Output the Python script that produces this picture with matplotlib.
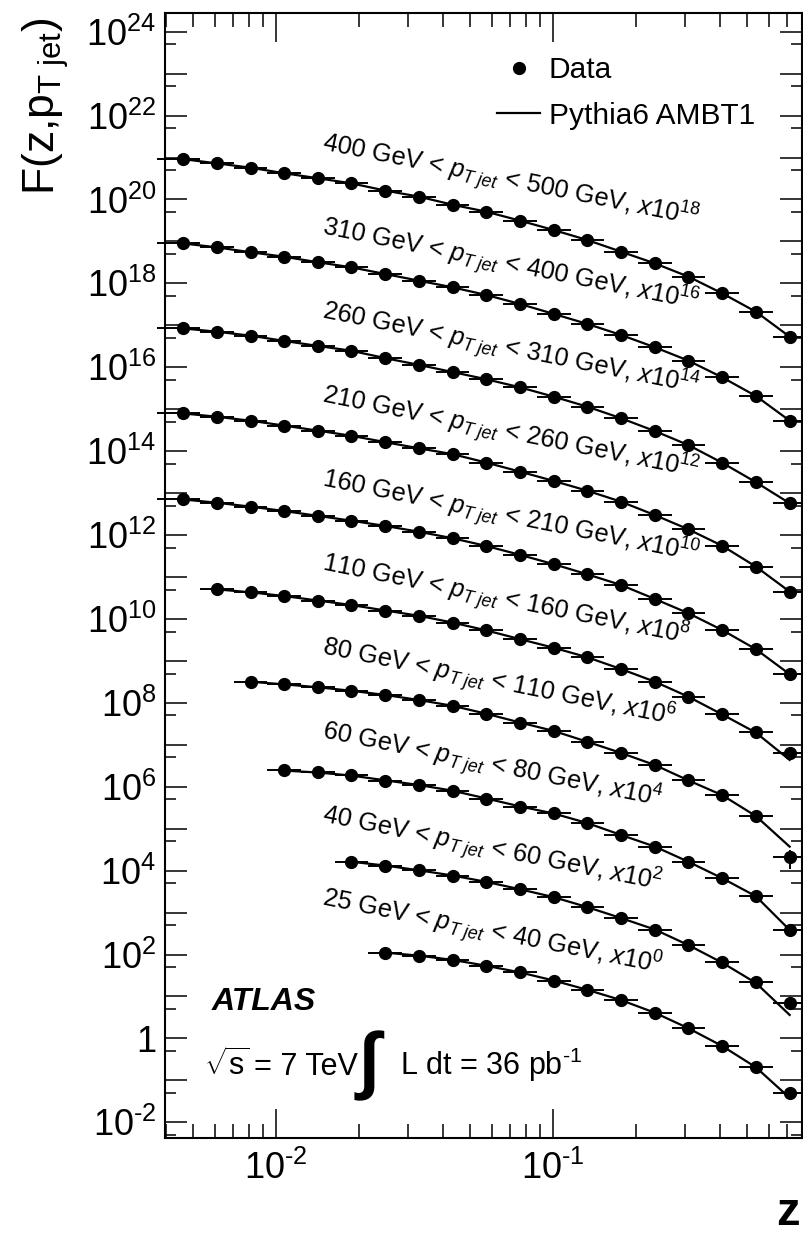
import matplotlib
matplotlib.use("Agg")
import matplotlib.pyplot as plt
import numpy as np
from matplotlib.lines import Line2D
from matplotlib.ticker import FixedLocator, FuncFormatter, NullFormatter

plt.rcParams['font.family'] = ['Liberation Sans', 'DejaVu Sans']
plt.rcParams['mathtext.fontset'] = 'custom'
plt.rcParams['mathtext.rm'] = 'Liberation Sans'
plt.rcParams['mathtext.it'] = 'Liberation Sans:italic'
plt.rcParams['mathtext.bf'] = 'Liberation Sans:bold'

HY = "\u2010"  # short hyphen used as minus sign, as in the original

# z bins (centres and edges)
z_centers = [0.0046, 0.0061, 0.0081, 0.0107, 0.0142, 0.0187, 0.0248, 0.0328, 0.0434, 0.0574,
             0.076, 0.1006, 0.133, 0.176, 0.233, 0.308, 0.408, 0.540, 0.715]
z_edges = [0.00372, 0.00531, 0.00703, 0.0093, 0.0123, 0.0163, 0.02155, 0.0285, 0.0377, 0.0499,
           0.0661, 0.0874, 0.1157, 0.1531, 0.2026, 0.2681, 0.3548, 0.4695, 0.6213, 0.8222]

# jet pT ranges, scale factors and first populated z bin
pt_lo = [25, 40, 60, 80, 110, 160, 210, 260, 310, 400]
pt_hi = [40, 60, 80, 110, 160, 210, 260, 310, 400, 500]
scale_exp = [0, 2, 4, 6, 8, 10, 12, 14, 16, 18]
first_bin = [6, 5, 3, 2, 1, 0, 0, 0, 0, 0]

# measured F(z, pT jet), unscaled
data_25 = [111, 94.2, 74.3, 53.5, 37.4, 23.9, 14.3, 8.15, 4.06, 1.75, 0.662, 0.213, 0.0511]
data_40 = [164, 132, 102, 76.0, 53.7, 36.0, 23.2, 13.4, 7.33, 3.94, 1.69, 0.649, 0.222, 0.0701]
data_60 = [245, 219, 186, 140, 110, 80.7, 51.8, 33.6, 23.3, 13.5, 7.10, 3.73, 1.64, 0.659, 0.249, 0.0385]
data_80 = [320, 277, 235, 195, 154, 117, 84.3, 54.3, 33.7, 21.4, 11.7, 6.40, 3.31, 1.41, 0.637, 0.205, 0.0209]
data_110 = [511, 433, 353, 273, 216, 158, 120, 81.7, 53.2, 32.8, 20.7, 12.2, 6.43, 3.20, 1.41, 0.535, 0.199, 0.0628]
data_160 = [713, 592, 475, 375, 285, 220, 165, 120, 83.9, 55.0, 33.6, 20.1, 11.6, 6.46, 3.00, 1.37, 0.547, 0.193, 0.0481]
data_210 = [800, 664, 533, 406, 308, 234, 163, 117, 85.7, 53.2, 32.4, 19.5, 11.4, 6.25, 3.01, 1.37, 0.558, 0.177, 0.0448]
data_260 = [851, 706, 567, 424, 322, 249, 164, 114, 76.0, 51.8, 33.3, 19.9, 11.5, 6.08, 3.03, 1.41, 0.532, 0.182, 0.0573]
data_310 = [904, 726, 551, 433, 318, 242, 167, 116, 80.7, 52.9, 32.3, 18.6, 10.8, 5.89, 3.00, 1.44, 0.578, 0.207, 0.0533]
data_400 = [925, 729, 573, 422, 320, 243, 162, 117, 74.0, 51.2, 31.3, 18.7, 10.8, 5.70, 3.01, 1.45, 0.581, 0.211, 0.0536]

# vertical error on the 80-110 GeV points (only the last one is visible)
err_80 = [0, 0, 0, 0, 0, 0, 0, 0, 0, 0, 0, 0, 0, 0, 0, 0, 0.010]

# Pythia6 AMBT1 prediction, unscaled
model_25 = [111, 94, 74.5, 54, 37.5, 24.0, 14.4, 8.2, 4.1, 1.75, 0.66, 0.205, 0.0382]
model_40 = [163, 132, 102, 76.5, 54.0, 36.0, 23.3, 13.5, 7.4, 3.95, 1.68, 0.64, 0.21, 0.0363]
model_60 = [243, 218, 185, 142, 110, 80.5, 52.5, 34.0, 23.0, 13.6, 7.1, 3.75, 1.63, 0.66, 0.245, 0.0385]
model_80 = [318, 276, 235, 194, 154, 117, 85.0, 55.0, 34.0, 21.4, 11.8, 6.4, 3.3, 1.42, 0.63, 0.20, 0.0373]
model_110 = [508, 432, 352, 274, 215, 159, 119, 82.0, 53.5, 33.0, 20.6, 12.2, 6.4, 3.2, 1.40, 0.53, 0.195, 0.0436]
model_160 = [710, 590, 476, 374, 286, 220, 165, 120, 84.0, 55.0, 33.8, 20.2, 11.6, 6.45, 3.0, 1.37, 0.545, 0.19, 0.0481]
model_210 = [798, 662, 532, 407, 308, 233, 164, 117, 85.0, 53.5, 32.5, 19.5, 11.4, 6.25, 3.0, 1.37, 0.556, 0.177, 0.0448]
model_260 = [848, 705, 566, 425, 322, 248, 165, 114, 77.0, 51.8, 33.3, 19.9, 11.5, 6.1, 3.02, 1.40, 0.53, 0.182, 0.0573]
model_310 = [900, 725, 552, 432, 318, 242, 167, 116, 80.5, 53.0, 32.3, 18.7, 10.8, 5.9, 3.0, 1.44, 0.576, 0.207, 0.0533]
model_400 = [920, 728, 572, 423, 320, 243, 163, 117, 75.0, 51.2, 31.3, 18.7, 10.8, 5.7, 3.0, 1.45, 0.58, 0.211, 0.0536]

data_sets = [data_25, data_40, data_60, data_80, data_110, data_160, data_210, data_260, data_310, data_400]
model_sets = [model_25, model_40, model_60, model_80, model_110, model_160, model_210, model_260, model_310, model_400]

W, H = 804, 1235
fig = plt.figure(figsize=(W / 100, H / 100), dpi=100)
ax = fig.add_axes([164.7 / W, (H - 1138) / H, (802 - 164.7) / W, (1138 - 12.7) / H])
ax.set_xscale('log')
ax.set_yscale('log')
ax.set_xlim(10 ** -2.4018, 10 ** -0.1011)
ax.set_ylim(10 ** -2.374, 10 ** 24.453)

zc_all = np.array(z_centers)
ze_all = np.array(z_edges)
for k in range(len(data_sets)):
    first = first_bin[k]
    factor = 10.0 ** scale_exp[k]
    zc = zc_all[first:]
    lo = zc - ze_all[first:-1]
    hi = ze_all[first + 1:] - zc
    y = np.array(data_sets[k]) * factor
    ym = np.array(model_sets[k]) * factor
    ax.plot(zc, ym, color='black', lw=1.6, zorder=2)
    yerr = np.array(err_80) * factor if pt_lo[k] == 80 else None
    cont = ax.errorbar(zc, y, xerr=[lo, hi], yerr=yerr, fmt='o', color='black', ms=8.5,
                       elinewidth=1.4, capsize=0, zorder=3)
    for coll in cont.lines[2]:
        coll.set_clip_on(False)
    label = (f"{pt_lo[k]} GeV < $p_{{T\\ jet}}$ < {pt_hi[k]} GeV, "
             f"$\\mathit{{x10^{{{scale_exp[k]}}}}}$")
    ax.text(0.0145, 1432 * factor, label, rotation=-11.4, rotation_mode='anchor',
            ha='left', va='baseline', fontsize=18.3)

# ticks
ax.yaxis.set_major_locator(FixedLocator([10.0 ** e for e in range(-2, 25)]))
ax.yaxis.set_minor_locator(FixedLocator([5 * 10.0 ** e for e in range(-3, 24)]))


def ylab(v, pos):
    e = int(round(np.log10(v)))
    if e % 2:
        return ""
    if e == 0:
        return "1"
    s = str(e).replace("-", HY)
    return f"$10^{{{s}}}$"


def xlab(v, pos):
    s = str(int(round(np.log10(v)))).replace("-", HY)
    return f"$10^{{{s}}}$"


ax.yaxis.set_major_formatter(FuncFormatter(ylab))
ax.yaxis.set_minor_formatter(NullFormatter())
ax.xaxis.set_major_locator(FixedLocator([1e-2, 1e-1]))
ax.xaxis.set_minor_locator(FixedLocator([m * 10.0 ** e for e in (-3, -2, -1) for m in range(2, 10)]))
ax.xaxis.set_major_formatter(FuncFormatter(xlab))
ax.xaxis.set_minor_formatter(NullFormatter())

ax.tick_params(which='both', direction='in', top=True, right=True, width=1.1, labelsize=26)
ax.tick_params(axis='y', which='major', length=15.8, pad=6)
ax.tick_params(axis='y', which='minor', length=7.9)
ax.tick_params(axis='x', which='major', length=21, pad=9)
ax.tick_params(axis='x', which='minor', length=10)
for sp in ax.spines.values():
    sp.set_linewidth(1.5)

# legend
handles = [Line2D([], [], marker='o', ls='none', color='black', ms=8.5),
           Line2D([], [], color='black', lw=1.6)]
ax.legend(handles, ['Data', 'Pythia6 AMBT1'], loc='upper left',
          bbox_to_anchor=(497 / W, 1 - 56 / H), bbox_transform=fig.transFigure,
          frameon=False, fontsize=21.5, handlelength=1.45, handletextpad=0.28,
          labelspacing=0.6, borderpad=0, borderaxespad=0)

# annotations
fig.text(212 / W, 1 - 1010 / H, "ATLAS", fontsize=23, fontweight='bold', fontstyle='italic', va='baseline')
fig.text(204 / W, 1 - 1075 / H, r"$\sqrt{\mathrm{s}}$", fontsize=22, va='baseline')
fig.text(254 / W, 1 - 1075 / H, "= 7 TeV", fontsize=22, va='baseline')
fig.text(359 / W, 1 - 1101 / H, "\u222b", fontsize=53, fontweight='bold', va='bottom')
fig.text(400 / W, 1 - 1075 / H, "L dt = 36 pb$^{" + HY + "1}$", fontsize=22, va='baseline')

# axis titles
fig.text(20 / W, 1 - 17 / H, r"F(z,p$_{\mathrm{T\ jet}}$)", rotation=90, ha='left', va='top', fontsize=32)
fig.text(800 / W, 1 - 1225 / H, "z", fontsize=34, fontweight='bold', ha='right', va='baseline')

fig.savefig("out.png", dpi=100)
